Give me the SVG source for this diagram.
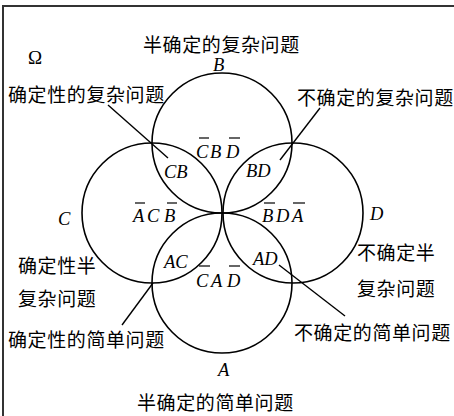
<svg xmlns="http://www.w3.org/2000/svg" width="454" height="416" viewBox="0 0 454 416">
<style>
.cn{font-family:"Liberation Serif","Noto Sans CJK SC",serif;font-size:19px;letter-spacing:0.6px;fill:#000}
.it{font-family:"Liberation Serif",serif;font-style:italic;font-size:18.5px;fill:#000}
.sym{font-family:"Liberation Serif",serif;font-size:19px;fill:#000}
.c{fill:none;stroke:#000;stroke-width:1.6}
.ln{stroke:#000;stroke-width:1.4;fill:none}
.ov{stroke:#000;stroke-width:1.2}
.fr{stroke:#333;stroke-width:2;fill:none}
</style>
<rect width="454" height="416" fill="#fff"/>
<path class="fr" d="M3,416 V6 H454"/>
<g id="frame-label"><text class="sym" x="28" y="64">Ω</text></g>
<g id="B"><circle class="c" cx="222" cy="143" r="70"/><text class="it" x="213" y="71">B</text></g>
<g id="C"><circle class="c" cx="152" cy="213" r="70"/><text class="it" x="58" y="225">C</text></g>
<g id="D"><circle class="c" cx="293" cy="213" r="70"/><text class="it" x="370" y="220">D</text></g>
<g id="A"><circle class="c" cx="222" cy="283" r="70"/><text class="it" x="218" y="376">A</text></g>
<g id="connectors">
<line class="ln" x1="108" y1="105" x2="168" y2="158"/>
<line class="ln" x1="320" y1="108" x2="280" y2="160"/>
<line class="ln" x1="122" y1="325" x2="153" y2="283"/>
<line class="ln" x1="279" y1="265" x2="345" y2="316"/>
</g>
<g id="labels">
<text class="cn" x="143" y="52">半确定的复杂问题</text>
<text class="cn" x="8" y="102">确定性的复杂问题</text>
<text class="cn" x="297" y="105">不确定的复杂问题</text>
<text class="cn" x="18" y="273">确定性半</text>
<text class="cn" x="18" y="306">复杂问题</text>
<text class="cn" x="8" y="347">确定性的简单问题</text>
<text class="cn" x="357" y="260">不确定半</text>
<text class="cn" x="357" y="296">复杂问题</text>
<text class="cn" x="294" y="340">不确定的简单问题</text>
<text class="cn" x="137" y="410">半确定的简单问题</text>
</g>
<g id="regions">
<text class="it" x="164" y="178">CB</text>
<text class="it" x="246" y="177">BD</text>
<text class="it" x="164" y="268">AC</text>
<text class="it" x="253" y="265">AD</text>
<text class="it" x="196" y="158">C</text><text class="it" x="210" y="158">B</text><text class="it" x="226" y="158">D</text>
<line class="ov" x1="199" y1="138" x2="209" y2="138"/><line class="ov" x1="229" y1="138" x2="240" y2="138"/>
<text class="it" x="133" y="222">A</text><text class="it" x="147" y="222">C</text><text class="it" x="164" y="222">B</text>
<line class="ov" x1="135" y1="203" x2="145" y2="203"/><line class="ov" x1="167" y1="203" x2="177" y2="203"/>
<text class="it" x="262" y="222">B</text><text class="it" x="276" y="222">D</text><text class="it" x="292" y="222">A</text>
<line class="ov" x1="264" y1="203" x2="275" y2="203"/><line class="ov" x1="293" y1="203" x2="305" y2="203"/>
<text class="it" x="196" y="287">C</text><text class="it" x="211" y="287">A</text><text class="it" x="227" y="287">D</text>
<line class="ov" x1="199" y1="266" x2="210" y2="266"/><line class="ov" x1="229" y1="266" x2="240" y2="266"/>
</g>
</svg>
